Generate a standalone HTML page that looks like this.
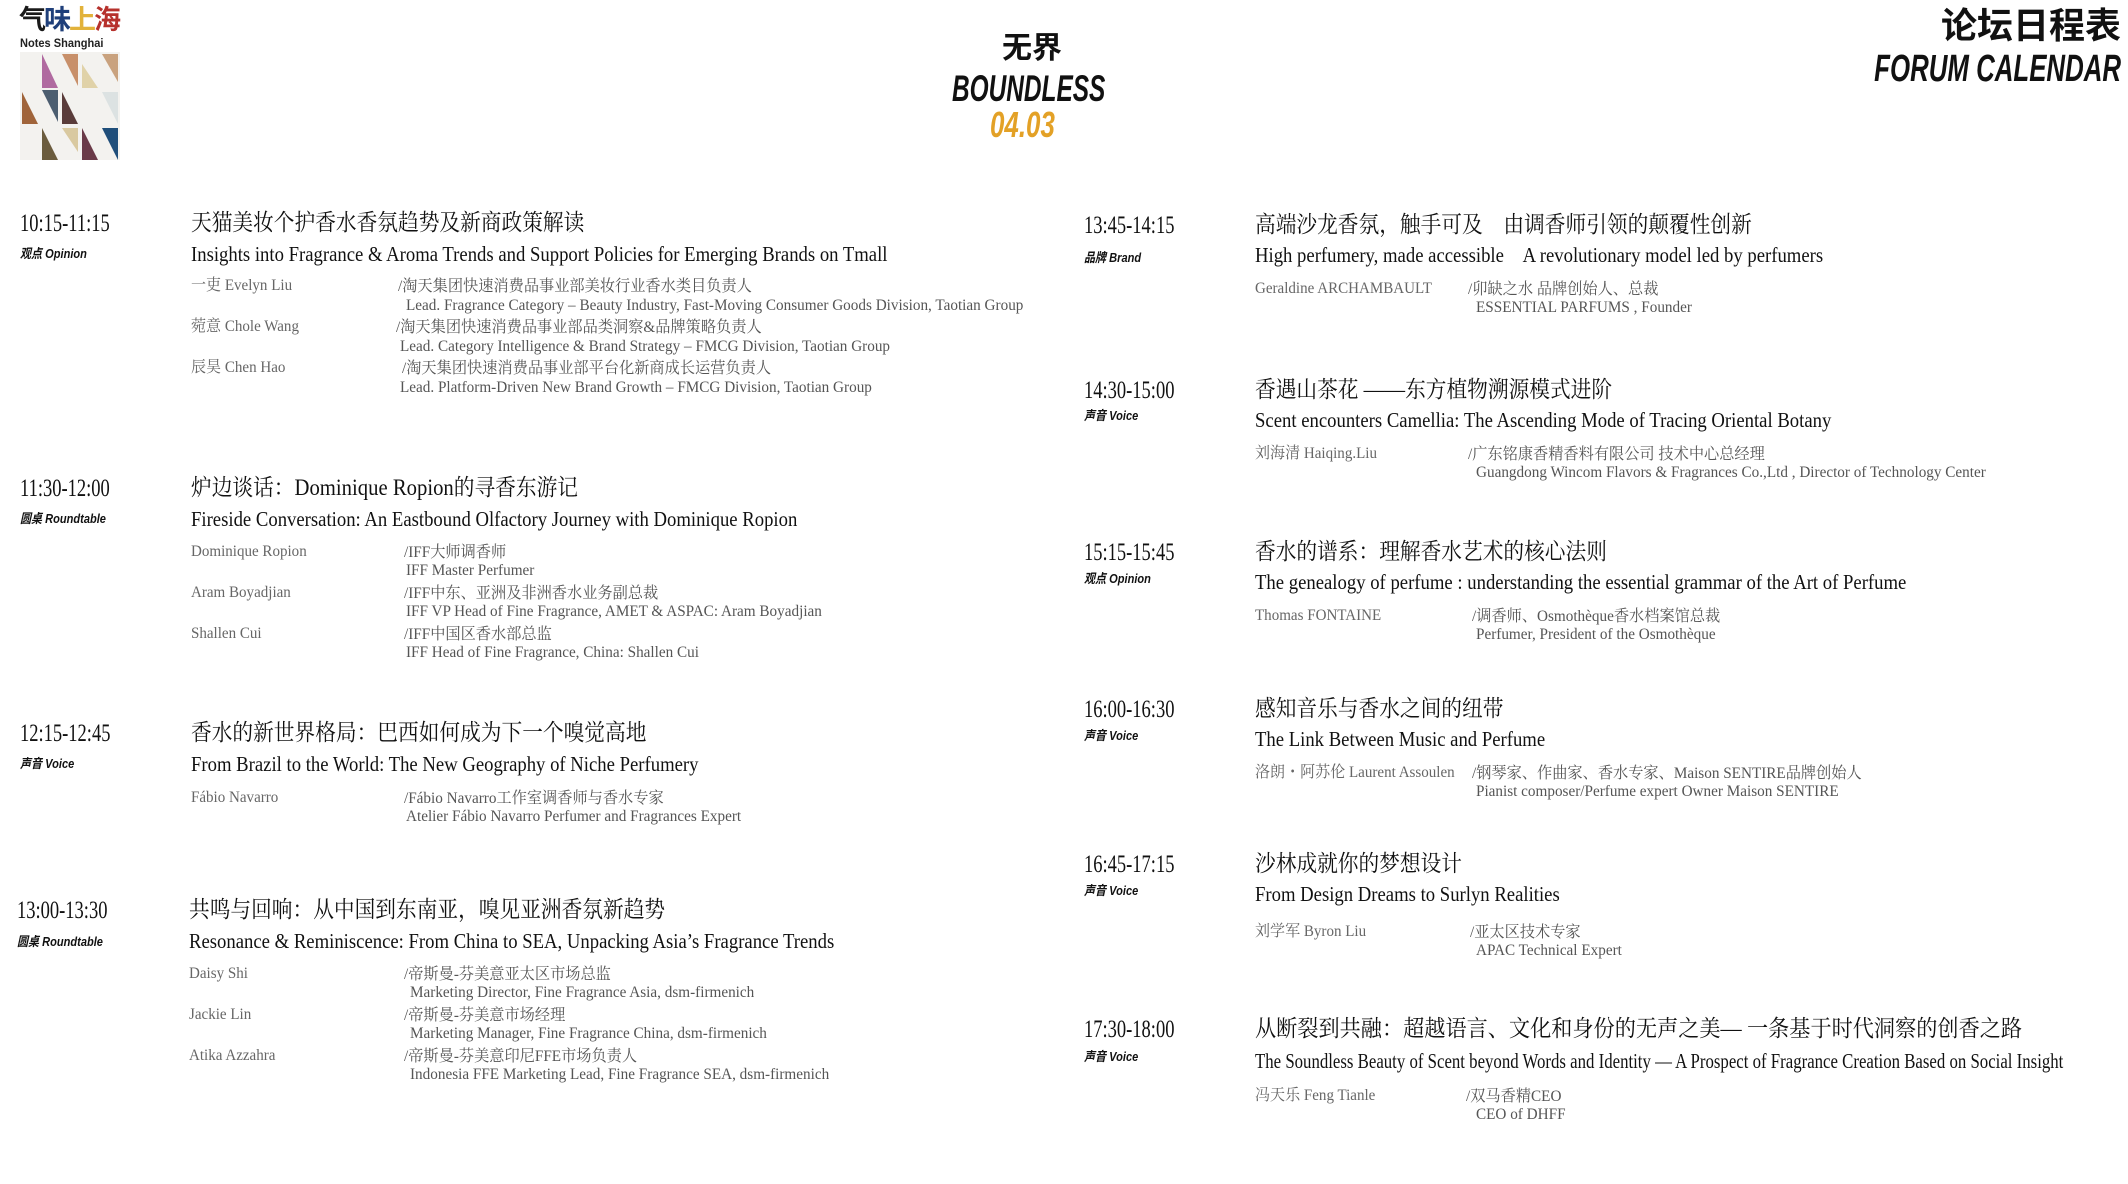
<!DOCTYPE html>
<html><head><meta charset="utf-8"><style>
*{margin:0;padding:0;box-sizing:border-box}
body{width:2128px;height:1184px;background:#fff;position:relative;overflow:hidden;font-family:"Liberation Serif","Noto Serif CJK SC",serif;color:#111;line-height:1.15}
.a{position:absolute;white-space:nowrap;transform-origin:left top}
.r{position:absolute;white-space:nowrap;transform-origin:right top;right:7px}
.tm{font-size:25px;transform:scaleX(.74);color:#111;margin-top:3px}
.lb{font-family:"Liberation Sans","Noto Sans CJK SC",sans-serif;font-weight:bold;font-style:italic;font-size:13px;transform:scaleX(.85);color:#111;margin-top:3px}
.cn{font-size:23px;transform:scaleX(.9);color:#111;margin-top:5px}
.en{font-size:21px;transform:scaleX(.89);color:#111}
.nm{font-size:16px;transform:scaleX(.94);color:#666;line-height:16px;margin-top:1px}
.rl{font-size:16px;transform:scaleX(.95);color:#555;line-height:16px}
.c{margin-top:2px}
.hd{font-family:"Liberation Sans","Noto Sans CJK SC",sans-serif;font-weight:bold}
</style></head><body>
<div class="a hd" style="left:19px;top:5px;font-size:27px;letter-spacing:-2px"><span style="color:#1a1a1a">气</span><span style="color:#1f3f7a">味</span><span style="color:#e2b23a">上</span><span style="color:#b6312c">海</span></div>
<div class="a hd" style="left:20px;top:37px;font-size:12px;color:#222;transform:scaleX(.92)">Notes Shanghai</div>
<svg class="a" style="left:20px;top:52px" width="100" height="108" viewBox="0 0 100 108">
<rect x="0" y="0" width="100" height="108" fill="#f3f2ef"/>
<polygon points="22,2 38,36 22,36" fill="#b06aa0"/>
<polygon points="42,2 58,2 58,34" fill="#c8906a"/>
<polygon points="62,12 78,36 62,36" fill="#e0d2a8"/>
<polygon points="82,2 98,2 98,30" fill="#c9a27e"/>
<polygon points="2,40 18,72 2,72" fill="#a0643a"/>
<polygon points="22,38 38,38 38,70" fill="#4c5e70"/>
<polygon points="42,40 58,72 42,72" fill="#5a3c3a"/>
<polygon points="82,40 98,40 98,72" fill="#dce2e2"/>
<polygon points="22,76 38,108 22,108" fill="#6b5c3e"/>
<polygon points="42,76 58,76 58,100" fill="#d9c9a0"/>
<polygon points="62,76 78,108 62,108" fill="#6a3a48"/>
<polygon points="82,76 98,76 98,108" fill="#1f4e7a"/>
</svg>
<div class="a hd" style="left:1002px;top:32px;font-size:30px">无界</div>
<div class="a hd" style="left:952px;top:68px;font-size:37px;font-style:italic;transform:scaleX(.66)">BOUNDLESS</div>
<div class="a hd" style="left:990px;top:104px;font-size:36px;font-style:italic;color:#e3a126;transform:scaleX(.72)">04.03</div>
<div class="r hd" style="top:5px;font-size:36px">论坛日程表</div>
<div class="r hd" style="top:48px;font-size:38px;font-style:italic;transform:scaleX(.68)">FORUM CALENDAR</div>

<div class="a tm" style="left:20px;top:207px">10:15-11:15</div>
<div class="a lb" style="left:20px;top:244px">观点 Opinion</div>
<div class="a cn" style="left:191px;top:205px">天猫美妆个护香水香氛趋势及新商政策解读</div>
<div class="a en" style="left:191px;top:242px">Insights into Fragrance &amp; Aroma Trends and Support Policies for Emerging Brands on Tmall</div>
<div class="a nm" style="left:191px;top:277px">一吏 Evelyn Liu</div>
<div class="a rl c" style="left:398px;top:277px">/淘天集团快速消费品事业部美妆行业香水类目负责人</div>
<div class="a rl" style="left:406px;top:298px">Lead. Fragrance Category – Beauty Industry, Fast-Moving Consumer Goods Division, Taotian Group</div>
<div class="a nm" style="left:191px;top:318px">菀意 Chole Wang</div>
<div class="a rl c" style="left:396px;top:318px">/淘天集团快速消费品事业部品类洞察&amp;品牌策略负责人</div>
<div class="a rl" style="left:400px;top:339px">Lead. Category Intelligence &amp; Brand Strategy – FMCG Division, Taotian Group</div>
<div class="a nm" style="left:191px;top:359px">辰昊 Chen Hao</div>
<div class="a rl c" style="left:402px;top:359px">/淘天集团快速消费品事业部平台化新商成长运营负责人</div>
<div class="a rl" style="left:400px;top:380px">Lead. Platform-Driven New Brand Growth – FMCG Division, Taotian Group</div>

<div class="a tm" style="left:20px;top:472px">11:30-12:00</div>
<div class="a lb" style="left:20px;top:509px">圆桌 Roundtable</div>
<div class="a cn" style="left:191px;top:470px">炉边谈话：Dominique Ropion的寻香东游记</div>
<div class="a en" style="left:191px;top:507px">Fireside Conversation: An Eastbound Olfactory Journey with Dominique Ropion</div>
<div class="a nm" style="left:191px;top:543px">Dominique Ropion</div>
<div class="a rl c" style="left:404px;top:543px">/IFF大师调香师</div>
<div class="a rl" style="left:406px;top:563px">IFF Master Perfumer</div>
<div class="a nm" style="left:191px;top:584px">Aram Boyadjian</div>
<div class="a rl c" style="left:404px;top:584px">/IFF中东、亚洲及非洲香水业务副总裁</div>
<div class="a rl" style="left:406px;top:604px">IFF VP Head of Fine Fragrance, AMET &amp; ASPAC: Aram Boyadjian</div>
<div class="a nm" style="left:191px;top:625px">Shallen Cui</div>
<div class="a rl c" style="left:404px;top:625px">/IFF中国区香水部总监</div>
<div class="a rl" style="left:406px;top:645px">IFF Head of Fine Fragrance, China: Shallen Cui</div>

<div class="a tm" style="left:20px;top:717px">12:15-12:45</div>
<div class="a lb" style="left:20px;top:754px">声音 Voice</div>
<div class="a cn" style="left:191px;top:715px">香水的新世界格局：巴西如何成为下一个嗅觉高地</div>
<div class="a en" style="left:191px;top:752px">From Brazil to the World: The New Geography of Niche Perfumery</div>
<div class="a nm" style="left:191px;top:789px">Fábio Navarro</div>
<div class="a rl c" style="left:404px;top:789px">/Fábio Navarro工作室调香师与香水专家</div>
<div class="a rl" style="left:406px;top:809px">Atelier Fábio Navarro Perfumer and Fragrances Expert</div>

<div class="a tm" style="left:17px;top:894px">13:00-13:30</div>
<div class="a lb" style="left:17px;top:932px">圆桌 Roundtable</div>
<div class="a cn" style="left:189px;top:892px">共鸣与回响：从中国到东南亚，嗅见亚洲香氛新趋势</div>
<div class="a en" style="left:189px;top:929px">Resonance &amp; Reminiscence: From China to SEA, Unpacking Asia’s Fragrance Trends</div>
<div class="a nm" style="left:189px;top:965px">Daisy Shi</div>
<div class="a rl c" style="left:404px;top:965px">/帝斯曼-芬美意亚太区市场总监</div>
<div class="a rl" style="left:410px;top:985px">Marketing Director, Fine Fragrance Asia, dsm-firmenich</div>
<div class="a nm" style="left:189px;top:1006px">Jackie Lin</div>
<div class="a rl c" style="left:404px;top:1006px">/帝斯曼-芬美意市场经理</div>
<div class="a rl" style="left:410px;top:1026px">Marketing Manager, Fine Fragrance China, dsm-firmenich</div>
<div class="a nm" style="left:189px;top:1047px">Atika Azzahra</div>
<div class="a rl c" style="left:404px;top:1047px">/帝斯曼-芬美意印尼FFE市场负责人</div>
<div class="a rl" style="left:410px;top:1067px">Indonesia FFE Marketing Lead, Fine Fragrance SEA, dsm-firmenich</div>

<div class="a tm" style="left:1084px;top:209px">13:45-14:15</div>
<div class="a lb" style="left:1084px;top:248px">品牌 Brand</div>
<div class="a cn" style="left:1255px;top:207px">高端沙龙香氛，触手可及　由调香师引领的颠覆性创新</div>
<div class="a en" style="left:1255px;top:243px">High perfumery, made accessible　A revolutionary model led by perfumers</div>
<div class="a nm" style="left:1255px;top:280px">Geraldine ARCHAMBAULT</div>
<div class="a rl c" style="left:1468px;top:280px">/卯缺之水 品牌创始人、总裁</div>
<div class="a rl" style="left:1476px;top:300px">ESSENTIAL PARFUMS , Founder</div>

<div class="a tm" style="left:1084px;top:374px">14:30-15:00</div>
<div class="a lb" style="left:1084px;top:406px">声音 Voice</div>
<div class="a cn" style="left:1255px;top:372px">香遇山茶花 ——东方植物溯源模式进阶</div>
<div class="a en" style="left:1255px;top:408px">Scent encounters Camellia: The Ascending Mode of Tracing Oriental Botany</div>
<div class="a nm" style="left:1255px;top:445px">刘海清 Haiqing.Liu</div>
<div class="a rl c" style="left:1468px;top:445px">/广东铭康香精香料有限公司 技术中心总经理</div>
<div class="a rl" style="left:1476px;top:465px">Guangdong Wincom Flavors &amp; Fragrances Co.,Ltd , Director of Technology Center</div>

<div class="a tm" style="left:1084px;top:536px">15:15-15:45</div>
<div class="a lb" style="left:1084px;top:569px">观点 Opinion</div>
<div class="a cn" style="left:1255px;top:534px">香水的谱系：理解香水艺术的核心法则</div>
<div class="a en" style="left:1255px;top:570px">The genealogy of perfume : understanding the essential grammar of the Art of Perfume</div>
<div class="a nm" style="left:1255px;top:607px">Thomas FONTAINE</div>
<div class="a rl c" style="left:1472px;top:607px">/调香师、Osmothèque香水档案馆总裁</div>
<div class="a rl" style="left:1476px;top:627px">Perfumer, President of the Osmothèque</div>

<div class="a tm" style="left:1084px;top:693px">16:00-16:30</div>
<div class="a lb" style="left:1084px;top:726px">声音 Voice</div>
<div class="a cn" style="left:1255px;top:691px">感知音乐与香水之间的纽带</div>
<div class="a en" style="left:1255px;top:727px">The Link Between Music and Perfume</div>
<div class="a nm" style="left:1255px;top:764px">洛朗・阿苏伦 Laurent Assoulen</div>
<div class="a rl c" style="left:1472px;top:764px">/钢琴家、作曲家、香水专家、Maison SENTIRE品牌创始人</div>
<div class="a rl" style="left:1476px;top:784px">Pianist composer/Perfume expert Owner Maison SENTIRE</div>

<div class="a tm" style="left:1084px;top:848px">16:45-17:15</div>
<div class="a lb" style="left:1084px;top:881px">声音 Voice</div>
<div class="a cn" style="left:1255px;top:846px">沙林成就你的梦想设计</div>
<div class="a en" style="left:1255px;top:882px">From Design Dreams to Surlyn Realities</div>
<div class="a nm" style="left:1255px;top:923px">刘学军 Byron Liu</div>
<div class="a rl c" style="left:1470px;top:923px">/亚太区技术专家</div>
<div class="a rl" style="left:1476px;top:943px">APAC Technical Expert</div>

<div class="a tm" style="left:1084px;top:1013px">17:30-18:00</div>
<div class="a lb" style="left:1084px;top:1047px">声音 Voice</div>
<div class="a cn" style="left:1255px;top:1011px;transform:scaleX(.92)">从断裂到共融：超越语言、文化和身份的无声之美— 一条基于时代洞察的创香之路</div>
<div class="a en" style="left:1255px;top:1049px;transform:scaleX(.8)">The Soundless Beauty of Scent beyond Words and Identity — A Prospect of Fragrance Creation Based on Social Insight</div>
<div class="a nm" style="left:1255px;top:1087px">冯天乐 Feng Tianle</div>
<div class="a rl c" style="left:1466px;top:1087px">/双马香精CEO</div>
<div class="a rl" style="left:1476px;top:1107px">CEO of DHFF</div>
</body></html>
